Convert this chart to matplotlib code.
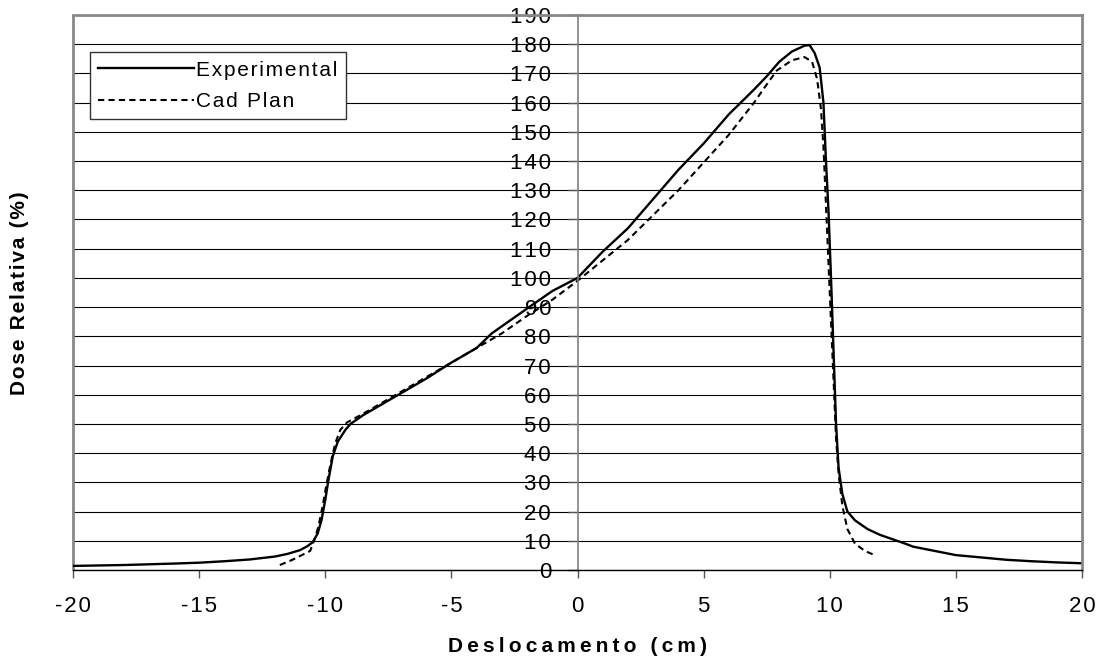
import matplotlib
matplotlib.use("Agg")
import matplotlib.pyplot as plt
from matplotlib.patches import Rectangle
from matplotlib.ticker import FuncFormatter

plt.rcParams['font.family'] = ['Liberation Sans', 'DejaVu Sans']
plt.rcParams['axes.unicode_minus'] = False

# Experimental profile (cm, %)
exp_x = [-20, -18, -16, -15, -14, -13, -12, -11.5, -11, -10.7, -10.5, -10.3,
         -10.15, -10.0, -9.87, -9.7, -9.5, -9.2, -9.0, -8.5, -7.8, -7.0, -6.0,
         -5.0, -4.0, -3.4, -2.0, -1.0, 0.0, 1.0, 2.0, 3.0, 4.0, 5.0, 6.0, 7.0,
         7.5, 8.0, 8.5, 9.0, 9.2, 9.4, 9.6, 9.75, 9.85, 9.95, 10.05, 10.15,
         10.25, 10.35, 10.5, 10.7, 11.0, 11.5, 12.0, 13.0, 13.3, 14.0, 15.0,
         16.0, 17.0, 18.0, 19.0, 20.0]
exp_y = [1.4, 1.7, 2.2, 2.5, 3.0, 3.6, 4.6, 5.5, 6.8, 8.2, 9.5, 12.5,
         17, 24, 31, 39, 44, 48, 50, 53, 56.5, 60.5, 65.5,
         71, 76, 81, 89.5, 95.5, 100, 109, 117, 127, 137, 146, 156, 164.5,
         169, 174, 177.5, 179.5, 179.7, 177, 172, 160, 140, 123, 100, 75,
         50, 35, 26, 20, 17, 14, 12, 9, 8, 6.8, 5.1,
         4.3, 3.5, 3.0, 2.6, 2.3]

# Cad Plan calculated profile
cad_x = [-11.8, -11.3, -10.6, -10.4, -10.27, -10.1, -10.0, -9.8, -9.6, -9.4,
         -9.14, -8.5, -8.0, -7.0, -6.0, -5.0, -4.0, -3.0, -2.0, -1.0, 0.0,
         1.0, 2.0, 3.0, 4.0, 5.0, 6.0, 7.0, 7.4, 7.9, 8.5, 9.0, 9.3, 9.5,
         9.65, 9.75, 9.85, 9.95, 10.05, 10.15, 10.25, 10.35, 10.5, 10.7,
         11.0, 11.4, 11.8]
cad_y = [1.7, 3.5, 6.5, 11, 15, 22, 27, 36, 43.5, 48,
         50.5, 53.5, 56, 61, 66, 71, 76, 81, 87, 92.5, 99,
         106, 113, 121.5, 130, 139.5, 149, 160, 165, 171, 174.5, 175.6, 174, 168,
         158, 145, 125, 105, 85, 65, 45, 33, 22, 14,
         9, 6.5, 5]

x_ticks = list(range(-20, 21, 5))
y_ticks = list(range(0, 191, 10))

THIN = '\u2009'
HAIR = '\u200a'


def spaced(s, sp):
    # fake letter spacing like the old Excel export
    return sp.join(s)


fig = plt.figure(figsize=(11.06, 6.63), dpi=100)
ax = fig.add_axes([73 / 1106, 1 - 570 / 663, 1009 / 1106, 555 / 663])

ax.set_xlim(-20, 20)
ax.set_ylim(0, 190)
ax.set_xticks(x_ticks)
ax.set_yticks(y_ticks)
fmt = FuncFormatter(lambda v, p: spaced('%d' % v, HAIR))
ax.xaxis.set_major_formatter(fmt)
ax.yaxis.set_major_formatter(fmt)

ax.yaxis.grid(True, color='black', linewidth=0.8)
ax.set_axisbelow(True)

ax.plot(exp_x, exp_y, color='black', linewidth=1.7, label=spaced('Experimental', HAIR))
ax.plot(cad_x, cad_y, color='black', linewidth=1.5, dashes=(3, 2), label=spaced('Cad Plan', HAIR))

# y axis crosses at x = 0
ax.spines['left'].set_position(('data', 0))
ax.spines['left'].set_color('#808080')
ax.spines['left'].set_linewidth(1.2)
ax.spines['bottom'].set_color('black')
ax.spines['bottom'].set_linewidth(1.0)
for s in ['top', 'right']:
    ax.spines[s].set_color('#888888')
    ax.spines[s].set_linewidth(2.0)
ax.add_patch(Rectangle((0, 0), 0.0, 1, transform=ax.transAxes, fill=False,
                       edgecolor='#888888', linewidth=2.0, clip_on=False))

ax.tick_params(axis='y', direction='out', length=7, width=1, color='#555555',
               labelsize=16, pad=12)
ax.tick_params(axis='x', direction='out', length=6, width=1, color='#555555',
               labelsize=16, pad=13)

leg = ax.legend(loc='upper left', bbox_to_anchor=(0.017, 0.933), borderaxespad=0,
                fontsize=15, handlelength=4.6, handletextpad=0.1, fancybox=False,
                framealpha=1, edgecolor='#333333', borderpad=0.4, labelspacing=0.6)
leg.get_frame().set_linewidth(1.0)

fig.text(577 / 1106, 1 - 646 / 663, spaced('Deslocamento (cm)', THIN), ha='center',
         va='center', fontsize=15, fontweight='bold')
fig.text(20 / 1106, 1 - 293 / 663, spaced('Dose Relativa (%)', HAIR), ha='center',
         va='center', rotation=90, fontsize=15, fontweight='bold')

fig.savefig('out.png', dpi=100)
